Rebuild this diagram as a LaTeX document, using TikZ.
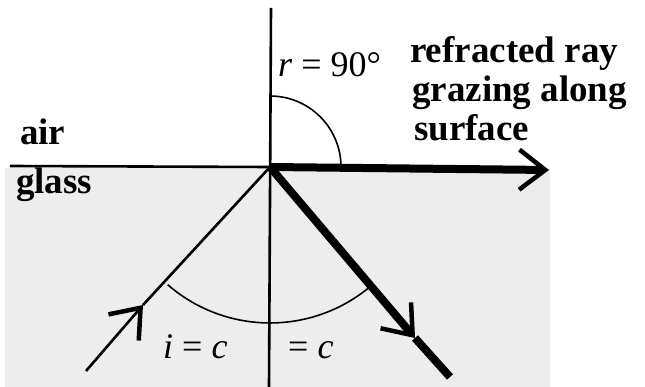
\documentclass[tikz,border=0pt]{standalone}
\usepackage{fontspec}
\setmainfont{Liberation Serif}
\usetikzlibrary{arrows.meta}
\begin{document}
\begin{tikzpicture}[x=1pt,y=-1pt,
  thinline/.style={line width=2.6pt},
  arcline/.style={line width=1.6pt},
  thickray/.style={line width=8pt},
  barb/.style={-{Straight Barb[length=26pt,width=40pt,line width=4.5pt]}},
  lbl/.style={anchor=base west,inner sep=0pt,font=\bfseries\fontsize{37}{37}\selectfont},
  mlbl/.style={anchor=base west,inner sep=0pt,font=\fontsize{36}{36}\selectfont}]
\useasboundingbox (0,0) rectangle (645,387);
\fill[black!7] (5,168) rectangle (550,387);
% points
\coordinate (O) at (270,167);
\coordinate (Ntop) at (271,8);
\coordinate (Nbot) at (269,387);
\coordinate (Lsurf) at (10,166);
\coordinate (Rtip) at (549,170);
\coordinate (Istart) at (86,371);
\coordinate (Iarrow) at (143,305);
\coordinate (Rarrow) at (415,338);
\coordinate (Rend) at (450,377);
% normal and surface
\draw[thinline] (Ntop) -- (Nbot);
\draw[thinline] (Lsurf) -- (O);
% refracted grazing ray
\draw[thickray,barb] (O) -- (Rtip);
% incident ray
\draw[thinline,barb] (Istart) -- (Iarrow);
\draw[thinline] (Iarrow) -- (O);
% reflected ray
\draw[thickray,barb] (O) -- (Rarrow);
\draw[thickray] (Rarrow) -- (Rend);
% angle arcs
\draw[arcline] (O) ++(0,-71) arc[start angle=-90,end angle=0,radius=71];
\draw[arcline] (O) ++(-102.3,117.7) arc[start angle=131,end angle=51,radius=156];
% labels
\node[mlbl] (rlab) at (278,77) {\textit{r} = 90°};
\node[lbl] (t1) at (410,63) {refracted ray};
\node[lbl] (t2) at (412,102) {grazing along};
\node[lbl] (t3) at (414,141) {surface};
\node[lbl] (air) at (20,145) {air};
\node[lbl] (glass) at (16,194) {glass};
\node[mlbl] (ilab) at (163,358) {\textit{i} = \textit{c}};
\node[mlbl] (clab) at (288,358) {= \textit{c}};
\end{tikzpicture}
\end{document}
